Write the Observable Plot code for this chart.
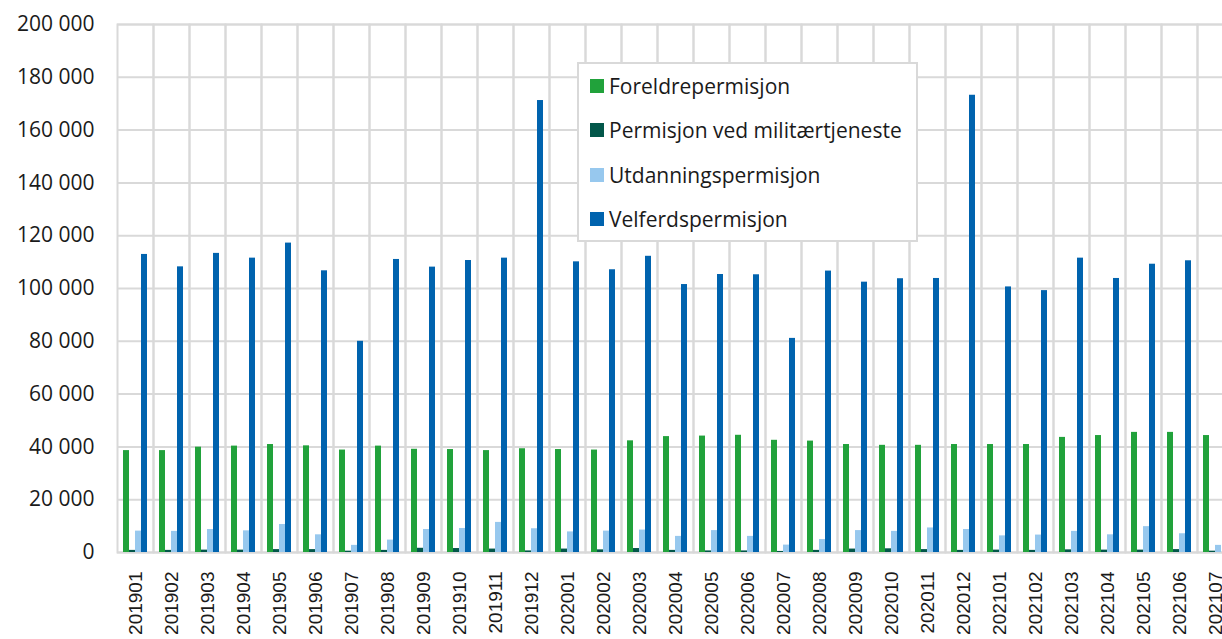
<!DOCTYPE html>
<html>
<head>
<meta charset="utf-8">
<script src="https://cdn.jsdelivr.net/npm/d3@7"></script>
<script src="https://cdn.jsdelivr.net/npm/@observablehq/plot@0.6"></script>
<style>
  html, body { margin: 0; padding: 0; background: #fff; overflow: hidden; }
  #wrap { position: relative; width: 1233px; height: 639px; overflow: hidden; }
  #chart svg { max-width: none !important; display: block; }
  #legend {
    position: absolute; left: 577px; top: 62px; width: 337px; height: 176px;
    background: #fff; border: 2px solid #d9d9d9;
    font-family: "Open Sans", sans-serif; font-size: 21px; color: #1a1a1a;
  }
  #legend .row { position: absolute; left: 11px; display: flex; align-items: center; white-space: nowrap; }
  #legend .sw { width: 14px; height: 14px; margin-right: 5px; }
</style>
</head>
<body>
<div id="wrap"><div id="chart"></div><div id="legend"></div></div>
<script>
const months = ["201901","201902","201903","201904","201905","201906","201907","201908","201909","201910","201911","201912",
  "202001","202002","202003","202004","202005","202006","202007","202008","202009","202010","202011","202012",
  "202101","202102","202103","202104","202105","202106","202107"];
const seriesNames = ["Foreldrepermisjon", "Permisjon ved militærtjeneste", "Utdanningspermisjon", "Velferdspermisjon"];
const seriesColors = ["#21a23b", "#03574a", "#97c8ee", "#0063ae"];
const foreldre = [38600, 38600, 39900, 40300, 40900, 40400, 38800, 40300, 39100, 39000, 38600, 39300,
  39000, 38800, 42300, 43900, 44100, 44400, 42500, 42200, 40900, 40600, 40600, 40900,
  40900, 40900, 43600, 44300, 45500, 45500, 44300];
const militaer = [800, 800, 900, 900, 1100, 1100, 500, 800, 1600, 1500, 1300, 600,
  1300, 1000, 1500, 800, 600, 600, 400, 800, 1300, 1400, 1100, 800,
  900, 800, 1000, 900, 900, 1100, 500];
const utdanning = [8100, 8000, 8700, 8200, 10600, 6700, 2700, 4700, 8700, 9100, 11400, 9000,
  7800, 8100, 8500, 6100, 8300, 6100, 2800, 4900, 8300, 8000, 9300, 8700,
  6300, 6600, 8000, 6700, 9800, 7100, 2700];
const velferd = [112900, 108200, 113300, 111500, 117200, 106700, 80000, 111000, 108100, 110600, 111500, 171200,
  110100, 107100, 112200, 101500, 105300, 105200, 81100, 106600, 102400, 103700, 103800, 173200,
  100600, 99200, 111500, 103800, 109200, 110500, null];
const yTicks = [0, 20000, 40000, 60000, 80000, 100000, 120000, 140000, 160000, 180000, 200000];

const seriesValues = [foreldre, militaer, utdanning, velferd];
const table = months.flatMap((m, i) => seriesNames.map((s, j) => ({month: m, series: s, value: seriesValues[j][i]})))
  .filter(d => d.value != null);

const fmt = v => d3.format(",")(v).replace(/,/g, " ");

const chart = Plot.plot({
  width: 1233, height: 639,
  marginLeft: 117, marginRight: 0, marginTop: 24, marginBottom: 87,
  style: {background: "white", color: "#1a1a1a", maxWidth: "none"},
  fx: {domain: months, padding: 0, label: null},
  x: {domain: seriesNames, paddingInner: 0, paddingOuter: 0.72, axis: null},
  y: {domain: [0, 200000], axis: null, label: null},
  color: {domain: seriesNames, range: seriesColors},
  marks: [
    Plot.gridY(yTicks, {stroke: "#d9d9d9", strokeOpacity: 1, strokeWidth: 2}),
    Plot.frame({stroke: "#d9d9d9", strokeWidth: 2}),
    Plot.barY(table, {fx: "month", x: "series", y: "value", fill: "series", inset: 0}),
    Plot.axisY(yTicks, {label: null, tickSize: 0, tickPadding: 23, fontSize: 21, tickFormat: fmt, fontFamily: "Open Sans", fill: "#1a1a1a"}),
    Plot.axisFx({anchor: "bottom", tickRotate: -90, tickSize: 0, tickPadding: 19, fontSize: 19, label: null, fontFamily: "Liberation Sans", fill: "#1a1a1a"})
  ]
});
document.getElementById("chart").appendChild(chart);

const legend = document.getElementById("legend");
const rowCenters = [22, 66, 110.7, 154.7];
seriesNames.forEach((s, i) => {
  const row = document.createElement("div");
  row.className = "row";
  row.style.top = (rowCenters[i] - 14) + "px";
  row.style.height = "28px";
  const sw = document.createElement("div");
  sw.className = "sw";
  sw.style.background = seriesColors[i];
  const t = document.createElement("span");
  t.textContent = s;
  row.appendChild(sw); row.appendChild(t);
  legend.appendChild(row);
});
</script>
</body>
</html>
